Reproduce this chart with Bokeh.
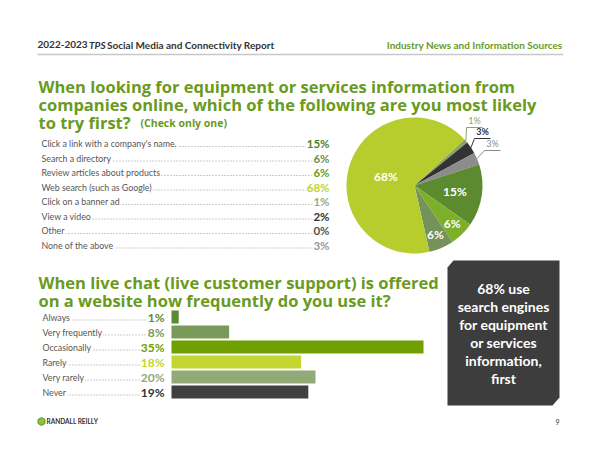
import numpy as np
from bokeh.plotting import figure
from bokeh.models import Range1d
from bokeh.core.properties import value
from bokeh.embed import file_html
from bokeh.resources import INLINE

# ---------------- data ----------------
source_items = ["Click a link with a company's name.", "Search a directory",
                "Review articles about products", "Web search (such as Google)",
                "Click on a banner ad", "View a video", "Other", "None of the above"]
source_pct = [15, 6, 6, 68, 1, 2, 0, 3]

# pie slices clockwise, starting at upper right (banner ad, video, none, link, review, directory, web)
pie_values = [1, 3, 3, 15, 6, 6, 68]

chat_categories = ["Always", "Very frequently", "Occasionally", "Rarely", "Very rarely", "Never"]
chat_pct = [1, 8, 35, 18, 20, 19]

box_lines = ["68% use", "search engines", "for equipment", "or services", "information,", "first"]

# ---------------- styles ----------------
GREEN = "#6a9a1e"
source_colors = ["#4f7f2a", "#6f8f50", "#6ea021", "#c2d52f", "#98ae80", "#333333", "#555555", "#9a9a9a"]
pie_colors = ["#8aa565", "#333333", "#8c8c8c", "#5b8a2f", "#7db02a", "#74925a", "#b7cd2d"]
chat_colors = ["#5a8a35", "#7a9a5a", "#6fa000", "#c3d630", "#92aa78", "#404040"]
chat_text_colors = ["#5a8a35", "#7a9a5a", "#6fa000", "#c3d630", "#92aa78", "#333333"]

W, H = 600, 463
FONT = value("Lato")
TFONT = value("Open Sans")


def Y(v):
    return H - np.asarray(v, dtype=float)


p = figure(width=W, height=H, x_range=Range1d(0, W), y_range=Range1d(0, H),
           x_axis_type=None, y_axis_type=None, toolbar_location=None,
           output_backend="svg", min_border=0)
p.grid.visible = False
p.outline_line_color = None
p.background_fill_color = "white"
p.border_fill_color = "white"

# ---------------- header ----------------
hy = float(Y(44))
p.text(x=[37], y=[hy], text=["2022-2023"], text_font=FONT, text_font_size="10px",
       text_font_style="bold", text_color="#333333", text_baseline="middle")
p.text(x=[88.5], y=[hy], text=["TPS"], text_font=FONT, text_font_size="10px",
       text_font_style="bold italic", text_color="#333333", text_baseline="middle")
p.text(x=[106.5], y=[hy], text=["Social Media and Connectivity Report"], text_font=FONT,
       text_font_size="10px", text_font_style="bold", text_color="#333333", text_baseline="middle")
p.text(x=[562], y=[hy], text=["Industry News and Information Sources"], text_font=FONT,
       text_font_size="10px", text_font_style="bold", text_color=GREEN,
       text_baseline="middle", text_align="right")
p.segment(x0=[37], y0=[float(Y(54))], x1=[563], y1=[float(Y(54))], line_color="#c8c8c8", line_width=1.5)

# ---------------- title 1 ----------------
t1 = ["When looking for equipment or services information from",
      "companies online, which of the following are you most likely",
      "to try first?"]
p.text(x=[38] * 3, y=Y([86, 104, 122]), text=t1, text_font=TFONT, text_font_size="16.5px",
       text_font_style="bold", text_color=GREEN, text_baseline="alphabetic")
p.text(x=[140], y=[float(Y(122))], text=["(Check only one)"], text_font=TFONT, text_font_size="10.5px",
       text_font_style="bold", text_color=GREEN, text_baseline="alphabetic")

# ---------------- list with leaders ----------------
rows = 143 + 14.5 * np.arange(len(source_items))
p.segment(x0=[41] * len(rows), y0=Y(rows + 3), x1=[326] * len(rows), y1=Y(rows + 3),
          line_color="#9a9a9a", line_width=1, line_dash="1 2")
p.text(x=[40] * len(rows), y=Y(rows), text=source_items, text_font=FONT, text_font_size="8.8px",
       text_color="#555555", text_baseline="middle", background_fill_color="white", padding=1)
p.text(x=[330] * len(rows), y=Y(rows), text=[f"{v}%" for v in source_pct], text_font=FONT,
       text_font_size="11.5px", text_font_style="bold", text_color=source_colors,
       text_baseline="middle", text_align="right", background_fill_color="white", padding=1)

# ---------------- pie ----------------
cx, cy, R = 414.0, float(Y(185)), 68.0
vals = np.array(pie_values, dtype=float)
unit = 2 * np.pi / vals.sum()
a0 = np.radians(42.7)
cum = np.concatenate([[0], np.cumsum(vals)])
starts = a0 - cum[:-1] * unit
ends = a0 - cum[1:] * unit
p.wedge(x=[cx] * len(vals), y=[cy] * len(vals), radius=R, start_angle=starts, end_angle=ends,
        direction="clock", fill_color=pie_colors, line_color=None)
mids = (starts + ends) / 2
inner_rf = [None, None, None, 0.6, 0.79, 0.78, 0.44]
ix, iy, it = [], [], []
for k, rf in enumerate(inner_rf):
    if rf is not None:
        ix.append(cx + rf * R * np.cos(mids[k]))
        iy.append(cy + rf * R * np.sin(mids[k]))
        it.append(f"{pie_values[k]}%")
p.text(x=ix, y=iy, text=it, text_font=FONT, text_font_size="12px", text_font_style="bold",
       text_color="white", text_align="center", text_baseline="middle")
# outside callouts for the three small slices
elbows = [(466, 127), (474, 138), (484, 150)]
for k, (ex, ey) in enumerate(elbows):
    px = cx + R * np.cos(mids[k])
    py = cy + R * np.sin(mids[k])
    col = pie_colors[k]
    p.line(x=[px, ex, ex + 16], y=[py, float(Y(ey)), float(Y(ey))], line_color=col, line_width=1)
    p.text(x=[ex + 8], y=[float(Y(ey)) + 1.5], text=[f"{pie_values[k]}%"], text_font=FONT,
           text_font_size="9px", text_font_style="bold" if k == 1 else "normal",
           text_color=col, text_align="center", text_baseline="bottom")

# ---------------- title 2 ----------------
t2 = ["When live chat (live customer support) is offered",
      "on a website how frequently do you use it?"]
p.text(x=[38] * 2, y=Y([282, 299.5]), text=t2, text_font=TFONT, text_font_size="16.5px",
       text_font_style="bold", text_color=GREEN, text_baseline="alphabetic")

# ---------------- bars ----------------
px_per_pct = 7.2
bx0 = 171.0
p.extra_x_ranges = {"bars": Range1d(-bx0 / px_per_pct, (W - bx0) / px_per_pct)}
brow = 316.5 + 15 * np.arange(len(chat_categories))
p.segment(x0=[42] * len(brow), y0=Y(brow + 3), x1=[162] * len(brow), y1=Y(brow + 3),
          line_color="#9a9a9a", line_width=1, line_dash="1 2")
p.text(x=[41] * len(brow), y=Y(brow), text=chat_categories, text_font=FONT, text_font_size="8.8px",
       text_color="#555555", text_baseline="middle", background_fill_color="white", padding=1)
p.text(x=[165] * len(brow), y=Y(brow), text=[f"{v}%" for v in chat_pct], text_font=FONT,
       text_font_size="12px", text_font_style="bold", text_color=chat_text_colors,
       text_baseline="middle", text_align="right", background_fill_color="white", padding=1)
p.hbar(y=Y(brow), left=0, right=chat_pct, height=13, x_range_name="bars",
       fill_color=chat_colors, line_color=None)

# ---------------- callout box ----------------
bxs = [453, 559, 559, 552, 447, 447]
bys = [260, 260, 397, 405, 405, 267]
p.patch(x=bxs, y=Y(bys), fill_color="#3d3d3d", line_color=None)
p.text(x=[503] * len(box_lines), y=Y(288 + 18 * np.arange(len(box_lines))), text=box_lines,
       text_font=FONT, text_font_size="14px", text_font_style="bold", text_color="white",
       text_align="center", text_baseline="middle")

# ---------------- footer ----------------
p.scatter(x=[41], y=[float(Y(421))], marker="hex", size=8, fill_color="#8cc43f", line_color="#5e8f25",
          line_width=1, angle=np.pi / 2)
p.text(x=[46], y=[float(Y(421))], text=["RANDALL REILLY"], text_font=FONT, text_font_size="6.5px",
       text_font_style="bold", text_color="#333333", text_baseline="middle")
p.text(x=[559], y=[float(Y(421))], text=["9"], text_font=FONT, text_font_size="7px",
       text_color="#333333", text_baseline="middle", text_align="right")

open("out.html", "w").write(file_html(p, INLINE))
